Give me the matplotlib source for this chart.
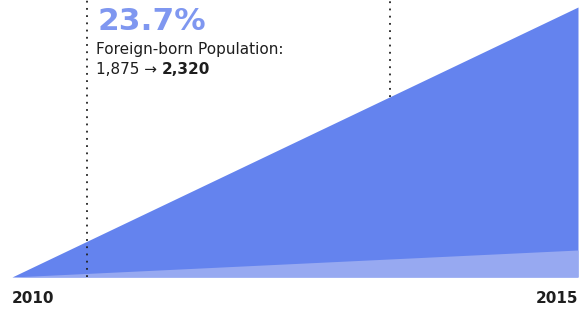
import matplotlib.pyplot as plt

# data (relative units, linear between the two years)
years = [2010, 2015]
total = [0, 270]          # dark area top
native_share = [0, 27]    # light band at the bottom
marker_years = [2010.66, 2013.34]

pct_label = "23.7%"
pop_before = "1,875"
pop_after = "2,320"

dark = "#6483ee"
light = "#97a9f1"
pct_color = "#7f97f0"
text_color = "#1e1e1e"

fig = plt.figure(figsize=(5.84, 3.11), dpi=100)
ax = fig.add_axes([12 / 584, 34 / 311, 566 / 584, 277 / 311])
ax.set_xlim(years[0], years[-1])
ax.set_ylim(0, 277)
ax.axis("off")

ax.fill_between(years, 0, total, color=dark, linewidth=0, zorder=1)
ax.fill_between(years, 0, native_share, color=light, linewidth=0, zorder=2)

# dotted markers: left one runs through the area, right one stops at its edge
slope = (total[1] - total[0]) / (years[1] - years[0])
ax.vlines(marker_years[0], 0, 277, colors="#222222", linewidth=1.3,
          linestyles=(0, (1, 3)), zorder=3)
edge_y = total[0] + slope * (marker_years[1] - years[0])
ax.vlines(marker_years[1], edge_y, 277, colors="#222222", linewidth=1.3,
          linestyles=(0, (1, 3)), zorder=0)

fig.text(97 / 584, 1 - 30 / 311, pct_label, color=pct_color, fontsize=22.5,
         fontweight="heavy", family="DejaVu Sans", va="baseline")
fig.text(96 / 584, 1 - 54 / 311, "Foreign-born Population:", color=text_color,
         fontsize=11, family="DejaVu Sans", va="baseline")
t = fig.text(96 / 584, 1 - 74 / 311, pop_before + " \u2192 ", color=text_color,
             fontsize=11, family="DejaVu Sans", va="baseline")
fig.canvas.draw()
bb = t.get_window_extent()
fig.text(bb.x1 / fig.bbox.width, 1 - 74 / 311, pop_after, color=text_color,
         fontsize=11, fontweight="bold", family="DejaVu Sans", va="baseline")

fig.text(12 / 584, 1 - 303 / 311, str(years[0]), color=text_color, fontsize=11,
         fontweight="bold", family="DejaVu Sans", va="baseline")
fig.text(578 / 584, 1 - 303 / 311, str(years[-1]), color=text_color, fontsize=11,
         fontweight="bold", family="DejaVu Sans", va="baseline", ha="right")

fig.savefig("out.png", dpi=100)
